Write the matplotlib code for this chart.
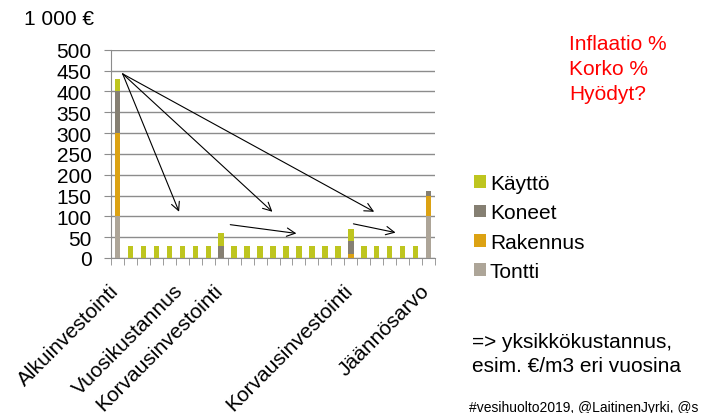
import numpy as np
import matplotlib.pyplot as plt
from matplotlib.transforms import ScaledTranslation

plt.rcParams['font.family'] = ['Liberation Sans', 'DejaVu Sans']

##==============================================================================
## data (1 000 EUR), 25 periods
n = 25
tontti   = [100] + [0]*23 + [100]
rakennus = [200] + [0]*17 + [10] + [0]*5 + [50]
koneet   = [100] + [0]*7 + [30] + [0]*9 + [30] + [0]*5 + [10]
kaytto   = [30]*24 + [0]

label_pos = [0, 5, 8, 18, 24]
label_txt = ['Alkuinvestointi', 'Vuosikustannus', 'Korvausinvestointi',
             'Korvausinvestointi', 'Jäännösarvo']

# arrows drawn on the slide: (x0, y0, x1, y1) in data units
arrows = [(0.4, 442, 4.75, 111),
          (0.4, 442, 11.95, 111),
          (0.4, 442, 19.8, 111),
          (8.7, 80, 13.8, 59),
          (18.2, 82, 21.45, 61)]

c_tontti = '#ada598'
c_rak = '#dca213'
c_kon = '#857f72'
c_kay = '#bec51f'

##==============================================================================
fig = plt.figure(figsize=(7.04, 4.14), dpi=100)
ax = fig.add_axes([0.1577, 0.3744, 0.4603, 0.5031])

x = np.arange(n)
t = np.array(tontti)
r = np.array(rakennus)
k = np.array(koneet)
u = np.array(kaytto)
w = 0.42
b1 = ax.bar(x, t, w, color=c_tontti, label='Tontti', zorder=3)
b2 = ax.bar(x, r, w, bottom=t, color=c_rak, label='Rakennus', zorder=3)
b3 = ax.bar(x, k, w, bottom=t+r, color=c_kon, label='Koneet', zorder=3)
b4 = ax.bar(x, u, w, bottom=t+r+k, color=c_kay, label='Käyttö', zorder=3)

for x0, y0, x1, y1 in arrows:
    ax.annotate('', xy=(x1, y1), xytext=(x0, y0),
                arrowprops=dict(arrowstyle='->', color='black', lw=0.8,
                                mutation_scale=15, shrinkA=0, shrinkB=0),
                zorder=5, annotation_clip=False)

ax.set_xlim(-0.5, n-0.5)
ax.set_ylim(0, 500)
ax.set_yticks(np.arange(0, 501, 50))
ax.yaxis.grid(True, color='#8c8c8c', lw=1, zorder=0)
ax.tick_params(axis='y', labelsize=15, length=5, color='#8c8c8c', pad=9)

ax.set_xticks(label_pos)
ax.set_xticklabels(label_txt, rotation=45, ha='right', fontsize=15)
ax.set_xticks(np.arange(-0.5, n, 1), minor=True)
ax.tick_params(axis='x', which='major', length=0, pad=16)
ax.tick_params(axis='x', which='minor', length=5, color='#8c8c8c')
shift = ScaledTranslation(0.05, 0, fig.dpi_scale_trans)
for lab in ax.get_xticklabels():
    lab.set_transform(lab.get_transform() + shift)

for s in ['top', 'right']:
    ax.spines[s].set_visible(False)
for s in ['left', 'bottom']:
    ax.spines[s].set_color('#8c8c8c')

##==============================================================================
fig.legend([b4, b3, b2, b1], ['Käyttö', 'Koneet', 'Rakennus', 'Tontti'],
           loc='upper left', bbox_to_anchor=(0.659, 0.603), frameon=False,
           fontsize=15, handlelength=0.55, handleheight=0.55,
           handletextpad=0.2, labelspacing=0.5, borderpad=0)

fig.text(0.034, 0.952, '1 000 €', fontsize=15, va='center')
fig.text(0.808, 0.831, 'Inflaatio %\nKorko %\nHyödyt?', fontsize=15,
         color='red', va='center', linespacing=1.4)
fig.text(0.671, 0.1437, '=> yksikkökustannus,\nesim. €/m3 eri vuosina',
         fontsize=15, va='center', linespacing=1.35)
fig.text(0.666, 0.014, '#vesihuolto2019, @LaitinenJyrki, @s', fontsize=10,
         va='center')

plt.savefig('out.png', dpi=100)
